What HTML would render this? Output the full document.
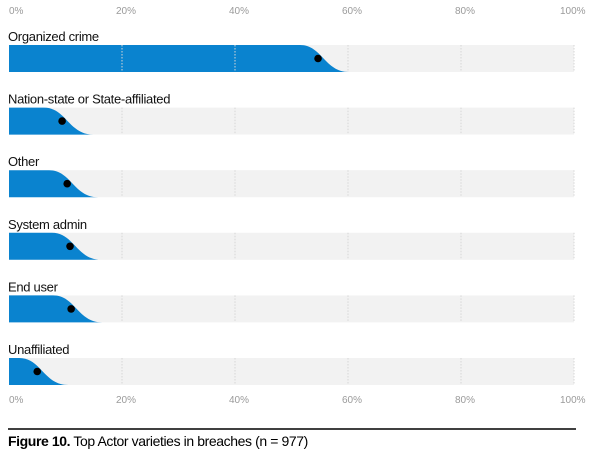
<!DOCTYPE html>
<html><head><meta charset="utf-8"><style>
html,body{margin:0;padding:0;background:#fff;}
body{width:600px;height:454px;overflow:hidden;font-family:"Liberation Sans",sans-serif;}
</style></head><body>
<svg id="chart" width="600" height="454" viewBox="0 0 600 454" xmlns="http://www.w3.org/2000/svg">
<g id="grid"></g>
<g id="rows"></g>
<g id="axes"></g>
<line x1="8" y1="429" x2="576" y2="429" stroke="#000" stroke-width="1.5"/>
<text x="8" y="446" font-size="14" fill="#000" letter-spacing="-0.4"><tspan font-weight="bold">Figure 10.</tspan> Top Actor varieties in breaches (n = 977)</text>
</svg>
<script>
const categories = ["Organized crime","Nation-state or State-affiliated","Other","System admin","End user","Unaffiliated"];
const values = [54.7, 9.4, 10.3, 10.8, 11.0, 5.0];
const ticks = [0,20,40,60,80,100];
const tickLabels = ["0%","20%","40%","60%","80%","100%"];

const NS="http://www.w3.org/2000/svg";
const svg=document.getElementById('chart');
const gGrid=document.getElementById('grid'), gRows=document.getElementById('rows'), gAxes=document.getElementById('axes');
const x0=9, x1=574;
function xScale(v){return x0+(x1-x0)*v/100;}
const rowTop=45, rowStep=62.6, bandH=27;
function yBand(i){return rowTop+i*rowStep;}
function mk(tag,attrs,parent){const e=document.createElementNS(NS,tag);for(const k in attrs)e.setAttribute(k,attrs[k]);parent.appendChild(e);return e;}

categories.forEach((c,i)=>{
  const y=yBand(i);
  const bg=mk('rect',{x:x0,y:y,width:x1-x0,height:bandH,fill:'#f2f2f2'},gRows);
  
  
});
ticks.forEach((t,i)=>{
  if(t===0)return;
  categories.forEach((c,j)=>{
    const y=yBand(j);
    const l=mk('line',{x1:xScale(t),x2:xScale(t),y1:y,y2:y+bandH,stroke:'#d6d6d6','stroke-width':1,'stroke-dasharray':'1.5,1.5'},gGrid);
    
    
  });
});
gGrid.parentNode.insertBefore(gRows,gGrid);
categories.forEach((c,i)=>{
  const y=yBand(i), v=values[i];
  const lab=mk('text',{x:x0-1,y:y-4,'font-size':13,fill:'#111','letter-spacing':'-0.3'},gRows);
  lab.textContent=c;
  
  
  const xa=xScale(Math.max(0,v-3.2)), xb=xScale(v+5.5), w=xb-xa;
  const d=`M${x0},${y} L${xa},${y} C${xa+w*0.45},${y} ${xa+w*0.5},${y+bandH} ${xb},${y+bandH} L${x0},${y+bandH} Z`;
  const p=mk('path',{d:d,fill:'#0a83cf'},gRows);
  
  
  const dot=mk('circle',{cx:xScale(v),cy:y+bandH/2,r:3.8,fill:'#000'},gRows);
  
  
});
[14,403].forEach(ty=>{
  ticks.forEach((t,i)=>{
    const tx=mk('text',{x:xScale(t)+(i===0?0:(i===ticks.length-1?-14:-6)),y:ty,'font-size':10,fill:'#9a9a9a'},gAxes);
    tx.textContent=tickLabels[i];
    
    
  });
});
</script>
</body></html>
